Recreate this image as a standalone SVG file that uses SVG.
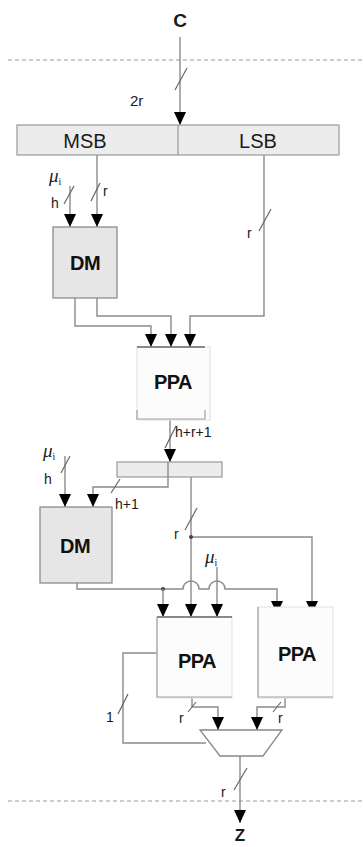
<svg xmlns="http://www.w3.org/2000/svg" width="363" height="847" viewBox="0 0 363 847">
<style>
.w{fill:none;stroke:#8a8a8a;stroke-width:1.4}
.s{fill:none;stroke:#666;stroke-width:1.2}
.dash{stroke:#9a9a9a;stroke-width:1;stroke-dasharray:4,3}
.bar{fill:#ececec;stroke:#999;stroke-width:1.2}
.dm{fill:#e6e6e6;stroke:#8c8c8c;stroke-width:1.3}
.ppa{fill:#fcfcfc;stroke:#e0e0e0;stroke-width:1}
.pe{fill:none;stroke:#a0a0a0;stroke-width:1.2}
.t{font-family:"Liberation Sans",Arial,sans-serif;fill:#1a1a1a}
.lb{font-size:14px}
.big{font-size:19px;font-weight:bold}
.bold{font-weight:bold;font-size:20px;fill:#111;letter-spacing:-0.5px}
.mu{font-family:"Liberation Serif","DejaVu Serif",serif;font-style:italic;font-size:19px;fill:#222}
</style>
<defs>
<marker id="ar" viewBox="0 0 13 12" refX="13" refY="6" markerWidth="13" markerHeight="12" markerUnits="userSpaceOnUse" orient="auto">
<path d="M0,0 L13,6 L0,12 z" fill="#000"/>
</marker>
</defs>
<rect width="363" height="847" fill="#fff"/>
<line class="dash" x1="8" y1="60" x2="363" y2="60"/>
<line class="dash" x1="8" y1="801" x2="363" y2="801"/>

<g id="connectors">
<line class="w" x1="180" y1="37" x2="180" y2="125" marker-end="url(#ar)"/>
<line class="s" x1="175" y1="90" x2="187" y2="68"/>
<line class="w" x1="97" y1="155" x2="97" y2="227" marker-end="url(#ar)"/>
<line class="s" x1="91" y1="201" x2="100" y2="183"/>
<line class="w" x1="70" y1="186" x2="70" y2="227" marker-end="url(#ar)"/>
<line class="s" x1="64" y1="204" x2="74" y2="186"/>
<polyline class="w" points="264,155 264,316 190,316 190,347" marker-end="url(#ar)"/>
<line class="s" x1="259" y1="231" x2="271" y2="209"/>
<polyline class="w" points="75,298 75,326 151,326 151,347" marker-end="url(#ar)"/>
<polyline class="w" points="97,298 97,316 171,316 171,347" marker-end="url(#ar)"/>
<line class="w" x1="170" y1="420" x2="170" y2="462" marker-end="url(#ar)"/>
<line class="s" x1="165" y1="448" x2="176" y2="426"/>
<polyline class="w" points="168,462 168,487 93,487 93,507" marker-end="url(#ar)"/>
<line class="s" x1="111" y1="493" x2="120" y2="479"/>
<line class="w" x1="65" y1="456" x2="65" y2="507" marker-end="url(#ar)"/>
<line class="s" x1="61" y1="473" x2="70" y2="456"/>
<line class="w" x1="191" y1="477" x2="191" y2="617" marker-end="url(#ar)"/>
<line class="s" x1="185" y1="530" x2="197" y2="508"/>
<polyline class="w" points="191,537 312,537 312,614" marker-end="url(#ar)"/>
<circle cx="191" cy="537" r="2" fill="#444"/>
<path class="w" d="M77,583 V589 H183 A8,8 0 0 1 199,589 H209 A8,8 0 0 1 225,589 H277 V614" marker-end="url(#ar)"/>
<circle cx="163" cy="589" r="2" fill="#444"/>
<line class="w" x1="163" y1="589" x2="163" y2="617" marker-end="url(#ar)"/>
<line class="w" x1="217" y1="567" x2="217" y2="617" marker-end="url(#ar)"/>
<polyline class="w" points="157,653 123,653 123,743 206,743"/>
<line class="s" x1="118" y1="714" x2="128" y2="694"/>
<polyline class="w" points="192,698 192,707 218,707 218,730" marker-end="url(#ar)"/>
<line class="s" x1="188" y1="712" x2="196" y2="702"/>
<polyline class="w" points="285,698 285,707 257,707 257,730" marker-end="url(#ar)"/>
<line class="s" x1="273" y1="712" x2="281" y2="702"/>
<line class="w" x1="240" y1="756" x2="240" y2="823" marker-end="url(#ar)"/>
<line class="s" x1="234" y1="790" x2="247" y2="768"/>
</g>

<g id="labels">
<text class="t big" x="180" y="27" text-anchor="middle">C</text>
<text class="t" x="130" y="106" font-size="15">2r</text>
<text class="mu" x="49" y="182">μ<tspan font-size="10" dy="3" font-style="normal">i</tspan></text>
<text class="t lb" x="51" y="208">h</text>
<text class="t lb" x="103" y="196">r</text>
<text class="t lb" x="247" y="238">r</text>
<text class="t lb" x="175" y="437">h+r+1</text>
<text class="mu" x="43" y="457">μ<tspan font-size="10" dy="3" font-style="normal">i</tspan></text>
<text class="t lb" x="44" y="484">h</text>
<text class="t lb" x="115" y="509">h+1</text>
<text class="t lb" x="174" y="539">r</text>
<text class="mu" x="205" y="563">μ<tspan font-size="10" dy="3" font-style="normal">i</tspan></text>
<text class="t lb" x="106" y="722">1</text>
<text class="t lb" x="179" y="723">r</text>
<text class="t lb" x="278" y="723">r</text>
<text class="t lb" x="221" y="797">r</text>
<text class="t" x="240" y="841" font-size="17" font-weight="bold" text-anchor="middle">Z</text>
</g>

<g id="bar1">
<rect class="bar" x="17" y="125" width="322" height="30"/>
<line x1="178" y1="125" x2="178" y2="155" stroke="#999" stroke-width="1.2"/>
<text class="t" x="85" y="148" font-size="20" text-anchor="middle">MSB</text>
<text class="t" x="258" y="148" font-size="20" text-anchor="middle">LSB</text>
</g>

<g id="dm1">
<rect class="dm" x="53" y="227" width="64" height="71"/>
<text class="t bold" x="85" y="270" text-anchor="middle" font-size="21">DM</text>
</g>

<g id="ppa1">
<rect class="ppa" x="137" y="347" width="73" height="73"/>
<line x1="137" y1="347" x2="205" y2="347" stroke="#666" stroke-width="1.3"/>
<path class="pe" d="M137,410 V419 H205 V410"/>
<text class="t bold" x="173" y="389" text-anchor="middle">PPA</text>
</g>

<g id="bar2">
<rect class="bar" x="117" y="462" width="105" height="15"/>
<line class="w" x1="168" y1="462" x2="168" y2="477"/>
</g>

<g id="dm2">
<rect class="dm" x="40" y="507" width="72" height="76"/>
<text class="t bold" x="75" y="553" text-anchor="middle" font-size="21">DM</text>
</g>

<g id="ppa2">
<rect class="ppa" x="157" y="617" width="75" height="81"/>
<line x1="157" y1="617" x2="232" y2="617" stroke="#666" stroke-width="1.3"/>
<path class="pe" d="M157,617 V697 H232"/>
<text class="t bold" x="197" y="668" text-anchor="middle">PPA</text>
</g>

<g id="ppa3">
<rect class="ppa" x="258" y="607" width="75" height="91"/>
<path class="pe" d="M258,607 V697 H333"/>
<text class="t bold" x="297" y="661" text-anchor="middle">PPA</text>
</g>

<g id="mux">
<polygon points="200,730 282,730 263,756 220,756" fill="#fff" stroke="#888" stroke-width="1.3"/>
</g>
</svg>
